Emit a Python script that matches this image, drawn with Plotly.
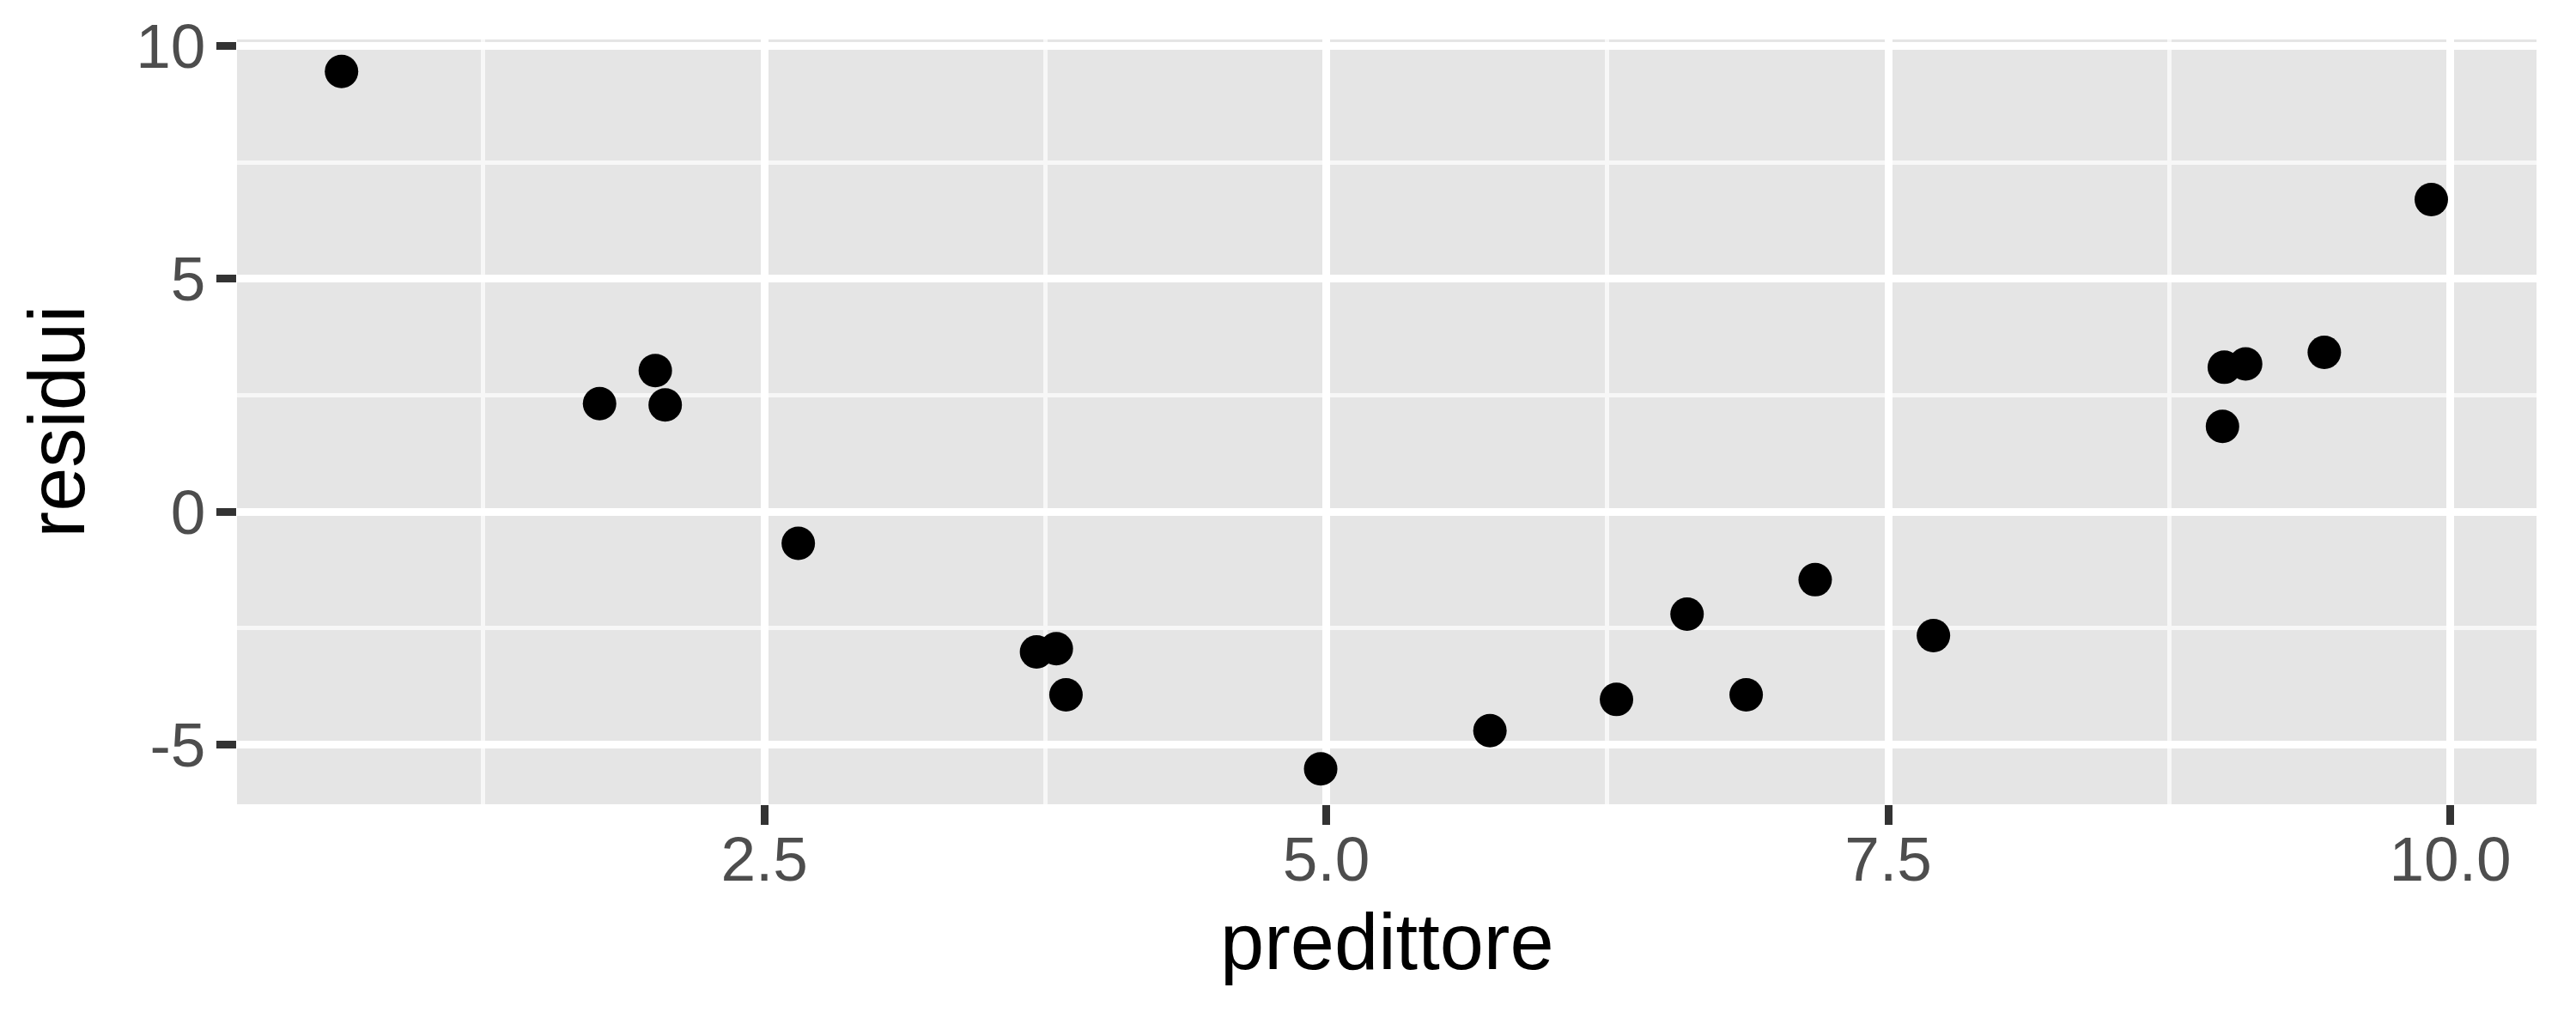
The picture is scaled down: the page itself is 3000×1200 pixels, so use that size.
import plotly.graph_objects as go

# data
predittore = [0.619, 1.767, 2.015, 2.059, 2.651, 3.711, 3.799, 3.842, 4.975, 5.728,
              6.291, 6.605, 6.868, 7.175, 7.701, 8.987, 8.995, 9.090, 9.440, 9.916]
residui = [9.45, 2.32, 3.03, 2.29, -0.68, -3.01, -2.94, -3.93, -5.52, -4.70,
           -4.03, -2.20, -3.93, -1.46, -2.66, 1.83, 3.10, 3.17, 3.42, 6.70]

x_ticks = [2.5, 5.0, 7.5, 10.0]
x_ticktext = ["2.5", "5.0", "7.5", "10.0"]
y_ticks = [-5, 0, 5, 10]
y_ticktext = ["-5", "0", "5", "10"]

FONT = "Liberation Sans, Arial, Helvetica, sans-serif"
TICK_SIZE = 73
TITLE_SIZE = 92
GRID_MAJOR = 9.4
GRID_MINOR = 4.7

fig = go.Figure()
fig.add_trace(go.Scatter(
    x=predittore, y=residui, mode="markers",
    marker=dict(color="black", size=39, line=dict(width=0)),
    showlegend=False, hoverinfo="skip",
))

W, H = 3000, 1200
L, R, T, B = 276, 3000 - 2954, 46, 1200 - 937

fig.update_layout(
    width=W, height=H,
    margin=dict(l=L, r=R, t=T, b=B, pad=0, autoexpand=False),
    paper_bgcolor="white",
    plot_bgcolor="#E5E5E5",
    font=dict(family=FONT, color="#4D4D4D", size=TICK_SIZE),
    showlegend=False,
)

fig.update_xaxes(
    range=[0.154, 10.384], automargin=False,
    tickmode="array", tickvals=x_ticks, ticktext=x_ticktext,
    ticks="outside", ticklen=23, tickwidth=GRID_MAJOR, tickcolor="#333333",
    tickfont=dict(family=FONT, size=TICK_SIZE, color="#4D4D4D"),
    showgrid=True, gridcolor="white", gridwidth=GRID_MAJOR,
    minor=dict(tickmode="array", tickvals=[1.25, 3.75, 6.25, 8.75],
               showgrid=True, gridcolor="#F7F7F7", gridwidth=GRID_MINOR, ticks=""),
    zeroline=False, showline=False,
    ticklabelstandoff=-23,
)
fig.update_yaxes(
    range=[-6.28, 10.135], automargin=False,
    tickmode="array", tickvals=y_ticks, ticktext=y_ticktext,
    ticks="outside", ticklen=23, tickwidth=GRID_MAJOR, tickcolor="#333333",
    tickfont=dict(family=FONT, size=TICK_SIZE, color="#4D4D4D"),
    showgrid=True, gridcolor="white", gridwidth=GRID_MAJOR,
    minor=dict(tickmode="array", tickvals=[-2.5, 2.5, 7.5],
               showgrid=True, gridcolor="#F7F7F7", gridwidth=GRID_MINOR, ticks=""),
    zeroline=False, showline=False,
    ticklabelstandoff=-2,
)

fig.add_annotation(
    text="predittore", xref="paper", yref="paper", x=0.5, y=0,
    xanchor="center", yanchor="middle", yshift=-160, showarrow=False,
    font=dict(family=FONT, size=TITLE_SIZE, color="black"),
)
fig.add_annotation(
    text="residui", xref="paper", yref="paper", x=0, y=0.5,
    xanchor="center", yanchor="middle", xshift=-211, textangle=-90, showarrow=False,
    font=dict(family=FONT, size=TITLE_SIZE, color="black"),
)

fig.write_html(
    "out.html",
    config={"displayModeBar": False},
    post_script="document.body.style.margin='0';document.body.style.overflow='hidden';",
)
